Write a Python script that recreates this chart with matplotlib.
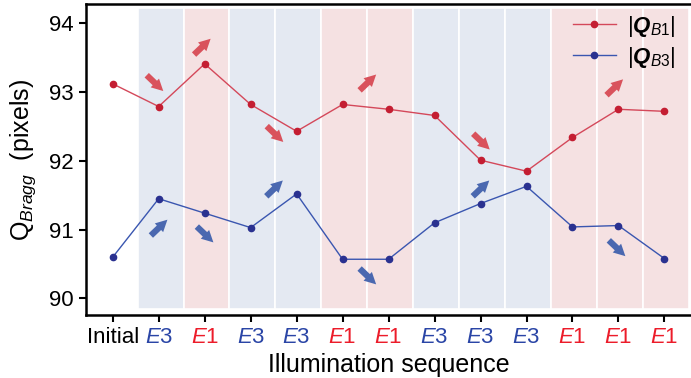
import numpy as np
import matplotlib.pyplot as plt

plt.rcParams['font.family'] = ['Liberation Sans', 'DejaVu Sans']
plt.rcParams['mathtext.fontset'] = 'custom'
plt.rcParams['mathtext.rm'] = 'Liberation Sans'
plt.rcParams['mathtext.it'] = 'Liberation Sans:italic'
plt.rcParams['mathtext.bf'] = 'Liberation Sans:bold'
plt.rcParams['mathtext.bfit'] = 'Liberation Sans:bold:italic'

# illumination steps (0 = initial)
steps = ['Initial', 'E3', 'E1', 'E3', 'E3', 'E1', 'E1', 'E3', 'E3', 'E3', 'E1', 'E1', 'E1']
q_b1 = [93.12, 92.79, 93.41, 92.82, 92.43, 92.82, 92.75, 92.66, 92.01, 91.85, 92.34, 92.75, 92.72]
q_b3 = [90.60, 91.45, 91.24, 91.03, 91.52, 90.57, 90.57, 91.10, 91.38, 91.63, 91.04, 91.06, 90.58]

# trend arrows: (x, y, direction)
arrows_b1 = [(0.92, 93.13, -1), (1.95, 93.66, 1), (3.53, 92.39, -1),
             (5.55, 93.14, 1), (8.02, 92.28, -1), (10.92, 93.07, 1)]
arrows_b3 = [(1.01, 91.03, 1), (2.01, 90.93, -1), (3.52, 91.60, 1),
             (5.55, 90.32, -1), (8.01, 91.60, 1), (10.97, 90.73, -1)]

red_line, red_mk, red_arrow = '#d4485a', '#c41e32', '#d9525c'
blue_line, blue_mk, blue_arrow = '#3a56b0', '#2a3190', '#4a68b0'
band_color = {'E3': '#e4e9f2', 'E1': '#f5e1e2'}
label_color = {'E3': '#2a45a6', 'E1': '#ec1c2a', 'Initial': 'black'}

fig = plt.figure(figsize=(6.91, 3.78), dpi=100)
ax = fig.add_axes([0.1245, 0.1667, 0.875, 0.8227])

x = np.arange(len(steps))
xmax = len(steps) - 1 + 0.57
for i, s in enumerate(steps):
    if s == 'Initial':
        continue
    right = min(i + 0.54, xmax)
    ax.axvspan(i - 0.46, right, ymin=0.018, ymax=0.987, facecolor=band_color[s],
               edgecolor='white', lw=1.2, zorder=0)

ax.plot(x, q_b1, '-', color=red_line, lw=1.0, zorder=3)
ax.plot(x, q_b1, 'o', color=red_mk, ms=4.5, zorder=4)
ax.plot(x, q_b3, '-', color=blue_line, lw=1.0, zorder=3)
ax.plot(x, q_b3, 'o', color=blue_mk, ms=4.5, zorder=4)

def draw_arrows(arrows, color):
    for ax_, ay, d in arrows:
        ax.annotate('', xy=(ax_ + 0.18, ay + d * 0.115), xytext=(ax_ - 0.18, ay - d * 0.115),
                    arrowprops=dict(arrowstyle='simple,head_length=0.6,head_width=0.62,tail_width=0.32',
                                    color=color, mutation_scale=14, lw=0, shrinkA=0, shrinkB=0),
                    zorder=5)

draw_arrows(arrows_b1, red_arrow)
draw_arrows(arrows_b3, blue_arrow)

# legend
h1, = ax.plot([], [], '-o', color=red_line, mfc=red_mk, mec=red_mk, ms=4.5, lw=1.0)
h2, = ax.plot([], [], '-o', color=blue_line, mfc=blue_mk, mec=blue_mk, ms=4.5, lw=1.0)
ax.legend([h1, h2], [r'$|\boldsymbol{Q}_{B1}|$', r'$|\boldsymbol{Q}_{B3}|$'],
          loc='upper left', frameon=False, fontsize=16, handlelength=1.9,
          handletextpad=0.5, labelspacing=0.25, borderpad=0, borderaxespad=0,
          bbox_to_anchor=(0.806, 0.968))

ax.set_xlim(-0.58, xmax)
ax.set_ylim(89.76, 94.28)
ax.set_yticks([90, 91, 92, 93, 94])
ax.set_xticks(x)
labels = []
for s in steps:
    if s == 'Initial':
        labels.append('Initial')
    else:
        labels.append(r'$\mathit{E}\mathregular{' + s[1] + '}$')
ax.set_xticklabels(labels)
for t, s in zip(ax.get_xticklabels(), steps):
    t.set_color(label_color[s])

ax.tick_params(direction='out', length=5, width=1.5, labelsize=16, pad=4)
for sp in ['left', 'bottom', 'top']:
    ax.spines[sp].set_linewidth(1.8)
ax.spines['right'].set_visible(False)

ax.set_xlabel('Illumination sequence', fontsize=18, labelpad=3)
ax.set_ylabel(r'$\mathregular{Q}_{Bragg}$  (pixels)', fontsize=18, labelpad=8)

fig.savefig('out.png', dpi=100)
